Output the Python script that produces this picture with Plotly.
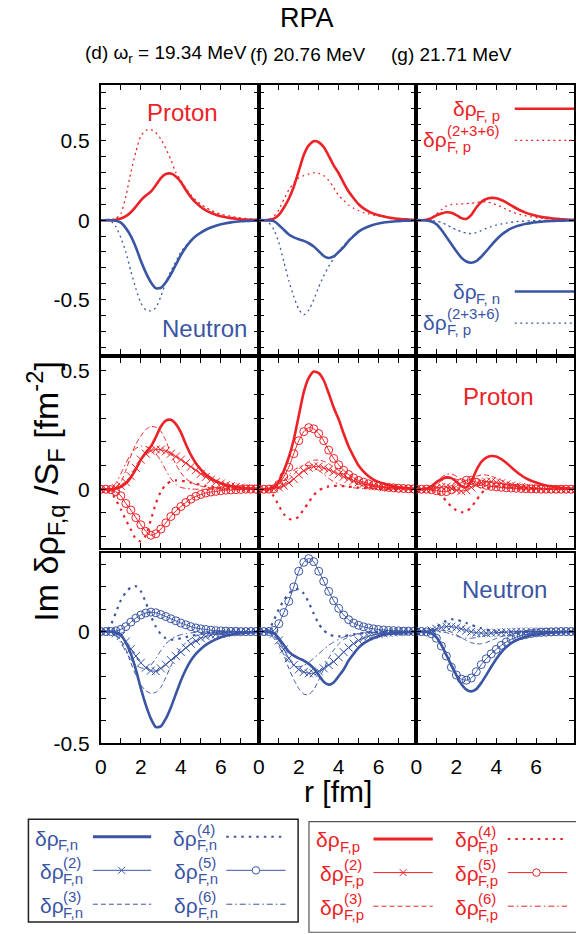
import plotly.graph_objects as go

W, H = 576, 934
RED = "#EC2227"
BLUE = "#3A55A4"
FONT = "Liberation Sans, Arial, Helvetica, sans-serif"

# radial grid [fm]
R = [0, 0.25, 0.5, 0.75, 1, 1.25, 1.5, 1.75, 2, 2.25, 2.5, 2.75, 3, 3.25, 3.5, 3.75, 4,
     4.25, 4.5, 4.75, 5, 5.25, 5.5, 5.75, 6, 6.25, 6.5, 6.75, 7, 7.25, 7.5, 7.75, 8]

# ---------------- (d) 19.34 MeV ----------------
D_P_TOT = [0,0,0,0.003,0.01,0.025,0.05,0.085,0.125, 0.155,0.18,0.22,0.265,0.29,0.293,0.275,0.24,
           0.19,0.145,0.11,0.083,0.062,0.047,0.034,0.025, 0.018,0.013,0.009,0.006,0.004,0.003,0.002,0.001]
D_P_236 = [0,0,0.002,0.01,0.04,0.15,0.30,0.43,0.53, 0.565,0.57,0.55,0.51,0.45,0.38,0.30,0.25,
           0.2,0.16,0.125,0.1,0.08,0.062,0.048,0.038, 0.03,0.024,0.018,0.014,0.011,0.008,0.006,0.005]
D_N_TOT = [0,0,0,-0.004,-0.015,-0.05,-0.1,-0.17,-0.255, -0.33,-0.39,-0.428,-0.425,-0.39,-0.34,-0.28,-0.22,
           -0.17,-0.13,-0.1,-0.078,-0.06,-0.046,-0.035,-0.026, -0.019,-0.014,-0.01,-0.007,-0.005,-0.004,-0.003,-0.002]
D_N_236 = [0,0,-0.005,-0.04,-0.11,-0.2,-0.32,-0.43,-0.52, -0.565,-0.57,-0.55,-0.48,-0.39,-0.32,-0.26,-0.2,
           -0.16,-0.125,-0.1,-0.078,-0.06,-0.046,-0.034,-0.025, -0.018,-0.013,-0.009,-0.006,-0.004,-0.003,-0.002,-0.001]
D_P2 = [0,0,0,0.005,0.015,0.03,0.055,0.09,0.125, 0.15,0.163,0.168,0.167,0.16,0.15,0.138,0.125,
        0.11,0.095,0.08,0.065,0.052,0.04,0.031,0.024, 0.018,0.013,0.01,0.007,0.005,0.004,0.003,0.002]
D_P3 = [0,0,0.002,0.01,0.03,0.08,0.14,0.19,0.225, 0.252,0.264,0.262,0.245,0.205,0.15,0.105,0.07,
        0.045,0.03,0.02,0.013,0.009,0.006,0.004,0.003, 0.002,0.002,0.001,0.001,0,0,0,0]
D_P4 = [0,0,-0.01,-0.045,-0.085,-0.13,-0.17,-0.21,-0.22, -0.195,-0.13,-0.06,-0.01,0.02,0.033,0.037,0.036,
        0.033,0.028,0.023,0.018,0.014,0.011,0.008,0.006, 0.005,0.004,0.003,0.002,0.002,0.001,0.001,0]
D_P5 = [0,0,-0.002,-0.01,-0.028,-0.06,-0.088,-0.12,-0.15, -0.178,-0.194,-0.188,-0.168,-0.142,-0.115,-0.092,-0.073,
        -0.056,-0.042,-0.03,-0.022,-0.016,-0.012,-0.009,-0.006, -0.004,-0.003,-0.002,-0.001,0,0,0,0]
D_P6 = [0,0,0.005,0.025,0.065,0.11,0.148,0.172,0.182, 0.18,0.17,0.15,0.12,0.08,0.045,0.02,0.008,
        0.003,0.001,0,0,0,0,0,0, 0,0,0,0,0,0,0,0]
D_N2 = [0,0,-0.002,-0.008,-0.02,-0.045,-0.078,-0.11,-0.14, -0.162,-0.175,-0.178,-0.165,-0.148,-0.128,-0.11,-0.092,
        -0.073,-0.055,-0.042,-0.03,-0.022,-0.016,-0.012,-0.009, -0.006,-0.004,-0.003,-0.002,-0.001,-0.001,0,0]
D_N3 = [0,0,-0.003,-0.015,-0.04,-0.08,-0.14,-0.195,-0.24, -0.265,-0.277,-0.272,-0.25,-0.205,-0.155,-0.11,-0.075,
        -0.05,-0.032,-0.02,-0.013,-0.009,-0.006,-0.004,-0.003, -0.002,-0.001,-0.001,0,0,0,0,0]
D_N4 = [0,0.002,0.03,0.085,0.14,0.175,0.198,0.203,0.18, 0.13,0.07,0.022,-0.012,-0.03,-0.036,-0.035,-0.03,
        -0.025,-0.02,-0.015,-0.011,-0.008,-0.006,-0.004,-0.003, -0.002,-0.002,-0.001,-0.001,0,0,0,0]
D_N5 = [0,0,0,0.003,0.01,0.022,0.042,0.06,0.074, 0.083,0.087,0.084,0.076,0.067,0.057,0.048,0.038,
        0.03,0.022,0.016,0.012,0.009,0.006,0.004,0.003, 0.002,0.001,0.001,0,0,0,0,0]
D_N6 = [0,0,-0.005,-0.02,-0.05,-0.09,-0.125,-0.15,-0.163, -0.163,-0.15,-0.12,-0.085,-0.055,-0.035,-0.022,-0.014,
        -0.009,-0.006,-0.004,-0.003,-0.002,-0.001,-0.001,0, 0,0,0,0,0,0,0,0]

# ---------------- (f) 20.76 MeV ----------------
F_P_TOT = [0,0,0.002,0.01,0.033,0.078,0.135,0.21,0.31, 0.41,0.47,0.497,0.49,0.46,0.405,0.345,0.295,
           0.235,0.18,0.138,0.1,0.074,0.055,0.041,0.031, 0.024,0.017,0.012,0.008,0.006,0.004,0.003,0.002]
F_P_236 = [0,0,0.005,0.025,0.065,0.13,0.19,0.235,0.265, 0.28,0.29,0.298,0.295,0.28,0.25,0.205,0.155,
           0.125,0.095,0.075,0.06,0.048,0.04,0.032,0.026, 0.02,0.016,0.012,0.009,0.007,0.005,0.004,0.003]
F_N_TOT = [0,0,-0.001,-0.006,-0.03,-0.06,-0.09,-0.108,-0.12, -0.13,-0.145,-0.165,-0.195,-0.225,-0.238,-0.228,-0.2,
           -0.17,-0.13,-0.1,-0.072,-0.053,-0.04,-0.029,-0.021, -0.015,-0.011,-0.008,-0.006,-0.004,-0.003,-0.002,-0.001]
F_N_236 = [0,-0.002,-0.015,-0.06,-0.14,-0.26,-0.38,-0.48,-0.56, -0.595,-0.565,-0.5,-0.42,-0.35,-0.29,-0.24,-0.195,
           -0.16,-0.125,-0.095,-0.07,-0.052,-0.038,-0.028,-0.021, -0.015,-0.011,-0.008,-0.006,-0.004,-0.003,-0.002,-0.001]
F_P2 = [0,0,0,0.003,0.008,0.015,0.027,0.043,0.062, 0.078,0.09,0.096,0.096,0.09,0.082,0.073,0.063,
        0.053,0.044,0.036,0.029,0.023,0.018,0.014,0.011, 0.008,0.006,0.005,0.004,0.003,0.002,0.001,0.001]
F_P3 = [0,0,0,0.003,0.01,0.022,0.04,0.062,0.085, 0.103,0.115,0.122,0.123,0.118,0.108,0.094,0.078,
        0.062,0.048,0.036,0.027,0.02,0.015,0.011,0.008, 0.006,0.004,0.003,0.002,0.001,0.001,0,0]
F_P4 = [0,-0.001,-0.008,-0.03,-0.07,-0.105,-0.125,-0.128,-0.115, -0.085,-0.055,-0.025,-0.005,0.006,0.012,0.014,0.014,
        0.013,0.011,0.009,0.007,0.005,0.004,0.003,0.002, 0.001,0.001,0,0,0,0,0,0]
F_P5 = [0,0,0,0.002,0.02,0.053,0.093,0.15,0.205, 0.243,0.26,0.255,0.235,0.205,0.165,0.13,0.103,
        0.08,0.062,0.048,0.037,0.03,0.023,0.018,0.014, 0.011,0.008,0.006,0.004,0.003,0.002,0.001,0.001]
F_P6 = [0,0,0.002,0.008,0.02,0.038,0.06,0.08,0.093, 0.1,0.1,0.093,0.08,0.063,0.046,0.032,0.022,
        0.014,0.009,0.006,0.004,0.003,0.002,0.001,0, 0,0,0,0,0,0,0,0]
F_N2 = [0,0,-0.002,-0.01,-0.04,-0.08,-0.12,-0.15,-0.17, -0.181,-0.187,-0.187,-0.178,-0.165,-0.15,-0.135,-0.115,
        -0.092,-0.072,-0.054,-0.04,-0.029,-0.021,-0.015,-0.011, -0.008,-0.006,-0.004,-0.003,-0.002,-0.001,-0.001,0]
F_N3 = [0,0,-0.005,-0.02,-0.055,-0.105,-0.165,-0.215,-0.255, -0.28,-0.283,-0.26,-0.218,-0.168,-0.12,-0.083,-0.055,
        -0.036,-0.024,-0.016,-0.011,-0.007,-0.005,-0.003,-0.002, -0.001,-0.001,0,0,0,0,0,0]
F_N4 = [0,0.001,0.01,0.05,0.1,0.14,0.17,0.187,0.19, 0.17,0.13,0.08,0.035,0.005,-0.012,-0.02,-0.022,
        -0.02,-0.017,-0.013,-0.01,-0.007,-0.005,-0.004,-0.003, -0.002,-0.001,-0.001,0,0,0,0,0]
F_N5 = [0,0,0,0.005,0.035,0.085,0.135,0.2,0.27, 0.31,0.327,0.313,0.27,0.225,0.18,0.138,0.104,
        0.074,0.053,0.038,0.028,0.021,0.016,0.012,0.009, 0.007,0.005,0.004,0.003,0.002,0.002,0.001,0.001]
F_N6 = [0,0,-0.008,-0.03,-0.065,-0.105,-0.135,-0.152,-0.158, -0.152,-0.138,-0.12,-0.1,-0.08,-0.062,-0.047,-0.035,
        -0.025,-0.018,-0.013,-0.009,-0.006,-0.004,-0.003,-0.002, -0.001,0,0,0,0,0,0,0]

# ---------------- (g) 21.71 MeV ----------------
G_P_TOT = [0,0,0.003,0.012,0.03,0.042,0.05,0.047,0.032, 0.013,0.008,0.033,0.08,0.115,0.133,0.14,0.138,
           0.127,0.112,0.093,0.075,0.059,0.046,0.036,0.028, 0.021,0.016,0.012,0.009,0.006,0.004,0.003,0.002]
G_P_236 = [0,0,0.003,0.015,0.04,0.065,0.088,0.098,0.101, 0.102,0.104,0.107,0.111,0.115,0.115,0.109,0.098,
           0.084,0.068,0.054,0.043,0.034,0.027,0.021,0.016, 0.012,0.009,0.007,0.005,0.004,0.003,0.002,0.001]
G_N_TOT = [0,0,-0.002,-0.008,-0.025,-0.06,-0.105,-0.15,-0.195, -0.235,-0.26,-0.268,-0.258,-0.23,-0.195,-0.158,-0.123,
           -0.093,-0.07,-0.052,-0.039,-0.03,-0.023,-0.017,-0.013, -0.01,-0.007,-0.005,-0.004,-0.003,-0.002,-0.001,-0.001]
G_N_236 = [0,0,-0.001,-0.003,-0.007,-0.014,-0.028,-0.045,-0.06, -0.072,-0.081,-0.085,-0.078,-0.066,-0.052,-0.04,-0.031,
           -0.024,-0.018,-0.013,-0.009,-0.007,-0.005,-0.004,-0.003, -0.002,-0.001,-0.001,0,0,0,0,0]
G_P2 = [0,0,0,0.002,0.006,0.01,0.01,0.004,-0.004, -0.008,-0.004,0.008,0.02,0.028,0.032,0.032,0.029,
        0.025,0.02,0.016,0.012,0.009,0.007,0.005,0.004, 0.003,0.002,0.001,0.001,0,0,0,0]
G_P3 = [0,0,0.002,0.008,0.02,0.035,0.045,0.048,0.042, 0.035,0.035,0.045,0.055,0.06,0.06,0.055,0.047,
        0.038,0.03,0.023,0.017,0.012,0.009,0.006,0.004, 0.003,0.002,0.001,0.001,0,0,0,0]
G_P4 = [0,0,-0.001,-0.004,-0.012,-0.026,-0.05,-0.073,-0.089, -0.097,-0.094,-0.075,-0.047,-0.018,0.002,0.01,0.012,
        0.011,0.009,0.007,0.005,0.004,0.003,0.002,0.001, 0.001,0,0,0,0,0,0,0]
G_P5 = [0,0,0,-0.002,-0.006,-0.01,-0.01,-0.002,0.012, 0.028,0.038,0.038,0.03,0.022,0.016,0.012,0.01,
        0.008,0.006,0.005,0.004,0.003,0.002,0.001,0.001, 0,0,0,0,0,0,0,0]
G_P6 = [0,0,0.003,0.012,0.03,0.05,0.063,0.065,0.055, 0.04,0.027,0.02,0.017,0.016,0.014,0.012,0.009,
        0.007,0.005,0.003,0.002,0.001,0,0,0, 0,0,0,0,0,0,0,0]
G_N2 = [0,0,0.001,0.005,0.012,0.018,0.022,0.022,0.018, 0.012,0.005,-0.001,-0.005,-0.007,-0.007,-0.006,-0.005,
        -0.004,-0.003,-0.002,-0.001,0,0,0,0, 0,0,0,0,0,0,0,0]
G_N3 = [0,0,0,0.002,0.005,0.006,0.004,-0.003,-0.014, -0.027,-0.04,-0.05,-0.055,-0.055,-0.049,-0.04,-0.031,
        -0.023,-0.017,-0.012,-0.008,-0.006,-0.004,-0.003,-0.002, -0.001,-0.001,0,0,0,0,0,0]
G_N4 = [0,0,0.002,0.008,0.02,0.035,0.048,0.055,0.053, 0.046,0.038,0.03,0.022,0.015,0.009,0.004,0.001,
        -0.001,-0.001,0,0,0,0,0,0, 0,0,0,0,0,0,0,0]
G_N5 = [0,0,-0.002,-0.01,-0.03,-0.065,-0.11,-0.16,-0.195, -0.213,-0.218,-0.208,-0.18,-0.148,-0.122,-0.1,-0.08,
        -0.062,-0.047,-0.035,-0.025,-0.018,-0.013,-0.009,-0.006, -0.004,-0.003,-0.002,-0.001,0,0,0,0]
G_N6 = [0,0,0,0.001,0.002,0,-0.005,-0.012,-0.02, -0.027,-0.03,-0.03,-0.027,-0.022,-0.017,-0.012,-0.008,
        -0.005,-0.003,-0.002,-0.001,0,0,0,0, 0,0,0,0,0,0,0,0]

SUBTITLES = ["(d) ω<sub>r</sub> = 19.34 MeV", "(f) 20.76 MeV", "(g) 21.71 MeV"]
X_TICKS = [0, 1, 2, 3, 4, 5, 6, 7]
X_TICKTEXT = ["0", "", "2", "", "4", "", "6", ""]
Y_TICKS = [
    [-0.8, -0.7, -0.6, -0.5, -0.4, -0.3, -0.2, -0.1, 0, 0.1, 0.2, 0.3, 0.4, 0.5, 0.6, 0.7, 0.8],
    [-0.2, -0.1, 0, 0.1, 0.2, 0.3, 0.4, 0.5],
    [-0.5, -0.4, -0.3, -0.2, -0.1, 0, 0.1, 0.2, 0.3],
]
Y_TICKTEXT = [
    ["", "", "", "-0.5", "", "", "", "", "0", "", "", "", "", "0.5", "", "", ""],
    ["", "", "0", "", "", "", "", "0.5"],
    ["-0.5", "", "", "", "", "0", "", "", ""],
]
Y_RANGES = [[-0.84, 0.85], [-0.25, 0.555], [-0.5, 0.35]]
X_RANGE = [0, 7.9]

COLUMNS = [
    dict(p_tot=D_P_TOT, n_tot=D_N_TOT, p236=D_P_236, n236=D_N_236,
         p=[D_P2, D_P3, D_P4, D_P5, D_P6], n=[D_N2, D_N3, D_N4, D_N5, D_N6]),
    dict(p_tot=F_P_TOT, n_tot=F_N_TOT, p236=F_P_236, n236=F_N_236,
         p=[F_P2, F_P3, F_P4, F_P5, F_P6], n=[F_N2, F_N3, F_N4, F_N5, F_N6]),
    dict(p_tot=G_P_TOT, n_tot=G_N_TOT, p236=G_P_236, n236=G_N_236,
         p=[G_P2, G_P3, G_P4, G_P5, G_P6], n=[G_N2, G_N3, G_N4, G_N5, G_N6]),
]

# panel edges in pixels
COL_PX = [(96, 256), (256, 415.5), (415.5, 575)]
ROW_PX = [(86, 358), (362, 555), (560, 752)]

DOT236 = "2px,3.5px"
DOT4 = "2.5px,5px"
DASH3 = "5px,3px"
DASHDOT6 = "6px,3px,1.5px,3px"


def PX(x):
    return x / W


def PY(y):
    return 1 - y / H


def comp_style(k, color):
    if k == 2:
        return dict(mode="lines+markers", line=dict(color=color, width=1),
                    marker=dict(symbol="x-thin-open", size=8, color=color, line=dict(color=color, width=1)))
    if k == 3:
        return dict(mode="lines", line=dict(color=color, width=1, dash=DASH3))
    if k == 4:
        return dict(mode="lines", line=dict(color=color, width=2.2, dash=DOT4))
    if k == 5:
        return dict(mode="lines+markers", line=dict(color=color, width=1),
                    marker=dict(symbol="circle-open", size=8, color=color, line=dict(color=color, width=1)))
    return dict(mode="lines", line=dict(color=color, width=1, dash=DASHDOT6))


fig = go.Figure()
layout_axes = {}
for ci, col in enumerate(COLUMNS):
    for ri in range(3):
        n = ri * 3 + ci + 1
        xa = "x" if n == 1 else f"x{n}"
        ya = "y" if n == 1 else f"y{n}"
        traces = []
        if ri == 0:
            traces.append((col["p236"], dict(mode="lines", line=dict(color=RED, width=1.3, dash=DOT236))))
            traces.append((col["n236"], dict(mode="lines", line=dict(color=BLUE, width=1.3, dash=DOT236))))
            traces.append((col["p_tot"], dict(mode="lines", line=dict(color=RED, width=2.6))))
            traces.append((col["n_tot"], dict(mode="lines", line=dict(color=BLUE, width=2.6))))
        elif ri == 1:
            for k, arr in zip([2, 3, 4, 5, 6], col["p"]):
                traces.append((arr, comp_style(k, RED)))
            traces.append((col["p_tot"], dict(mode="lines", line=dict(color=RED, width=2.6))))
        else:
            for k, arr in zip([2, 3, 4, 5, 6], col["n"]):
                traces.append((arr, comp_style(k, BLUE)))
            traces.append((col["n_tot"], dict(mode="lines", line=dict(color=BLUE, width=2.6))))
        for arr, st in traces:
            st = dict(st)
            st["line"] = dict(st["line"], shape="spline", smoothing=0.6)
            fig.add_trace(go.Scatter(x=R, y=arr, xaxis=xa, yaxis=ya, showlegend=False,
                                     hoverinfo="skip", **st))
        x0, x1 = COL_PX[ci]
        y0, y1 = ROW_PX[ri]
        common = dict(showline=True, mirror="allticks", linecolor="black", linewidth=2,
                      ticks="inside", ticklen=5, tickwidth=1, tickcolor="black",
                      showgrid=False, zeroline=False, fixedrange=True,
                      tickfont=dict(size=21, family=FONT, color="black"))
        layout_axes["xaxis" if n == 1 else f"xaxis{n}"] = dict(
            domain=[PX(x0), PX(x1)], range=X_RANGE, anchor=ya, ticklabelstandoff=4,
            tickvals=X_TICKS, ticktext=X_TICKTEXT if ri == 2 else [""] * len(X_TICKS), **common)
        layout_axes["yaxis" if n == 1 else f"yaxis{n}"] = dict(
            domain=[PY(y1), PY(y0)], range=Y_RANGES[ri], anchor=xa, ticklabelstandoff=5,
            tickvals=Y_TICKS[ri],
            ticktext=Y_TICKTEXT[ri] if ci == 0 else [""] * len(Y_TICKS[ri]), **common)


def txt(x, y, s, size, color="black", xanchor="center", yanchor="middle", angle=0):
    return dict(x=PX(x), y=PY(y), xref="paper", yref="paper", text=s, showarrow=False,
                font=dict(size=size, color=color, family=FONT), xanchor=xanchor,
                yanchor=yanchor, textangle=angle)


def stacked(x, y, sup, sub, color, big=21, small=15, dw=24):
    items = [txt(x, y, "δρ", big, color, "left"), txt(x + dw, y + 7, sub, small, color, "left")]
    if sup:
        items.append(txt(x + dw, y - 9, sup, small, color, "left"))
    return items


def hline(x0, x1, y, color, width=1, dash="solid"):
    return dict(type="line", xref="paper", yref="paper", x0=PX(x0), x1=PX(x1),
                y0=PY(y), y1=PY(y), line=dict(color=color, width=width, dash=dash))


ann = []
shapes = []
ann.append(txt(305, 18, "RPA", 27))
ann.append(txt(78, 55, SUBTITLES[0], 19, xanchor="left"))
ann.append(txt(245, 55, SUBTITLES[1], 19, xanchor="left"))
ann.append(txt(388, 55, SUBTITLES[2], 19, xanchor="left"))
ann.append(txt(336, 801, "r [fm]", 30))
ann.append(txt(40, 497, "Im δρ<sub>F,q</sub> /S<sub>F</sub> [fm<sup>-2</sup>]", 34, angle=-90))
ann.append(txt(179, 114, "Proton", 24, RED))
ann.append(txt(201, 332, "Neutron", 24, BLUE))
ann.append(txt(499, 401, "Proton", 24, RED))
ann.append(txt(505, 597, "Neutron", 24, BLUE))

# in-panel legend (g, top row)
ann += stacked(450, 110, None, "F, p", RED)
ann += stacked(420, 141, "(2+3+6)", "F, p", RED)
ann += stacked(450, 295, None, "F, n", BLUE)
ann += stacked(420, 326, "(2+3+6)", "F, p", BLUE)
shapes.append(hline(515, 575, 110, RED, 2.6))
shapes.append(hline(515, 575, 142, RED, 1.3, DOT236))
shapes.append(hline(515, 575, 295, BLUE, 2.6))
shapes.append(hline(515, 575, 327, BLUE, 1.3, DOT236))

# bottom legend boxes
shapes.append(dict(type="rect", xref="paper", yref="paper", x0=PX(22.7), x1=PX(295.7),
                   y0=PY(933), y1=PY(829), line=dict(color="#222", width=1.5)))
shapes.append(dict(type="rect", xref="paper", yref="paper", x0=PX(306.7), x1=1.01,
                   y0=-0.01, y1=PY(831.5), line=dict(color="#555", width=1.2)))


def legend_box(color, q, cols_x, lines_x, rows_y, lines_y, marks_x):
    sups = [[None, "(2)", "(3)"], ["(4)", "(5)", "(6)"]]
    comps = [["tot", 2, 3], [4, 5, 6]]
    for c in range(2):
        for r in range(3):
            xt = cols_x[c][r]
            ann.extend(stacked(xt, rows_y[r], sups[c][r], "F," + q, color))
            lx0, lx1 = lines_x[c]
            ly = lines_y[r]
            k = comps[c][r]
            if k == "tot":
                shapes.append(hline(lx0, lx1, ly, color, 3))
            elif k in (2, 5):
                shapes.append(hline(lx0, lx1, ly, color, 1))
                mx = marks_x[c]
                if k == 2:
                    d = 3.5
                    shapes.append(dict(type="line", xref="paper", yref="paper", x0=PX(mx - d),
                                       x1=PX(mx + d), y0=PY(ly - d), y1=PY(ly + d),
                                       line=dict(color=color, width=1)))
                    shapes.append(dict(type="line", xref="paper", yref="paper", x0=PX(mx - d),
                                       x1=PX(mx + d), y0=PY(ly + d), y1=PY(ly - d),
                                       line=dict(color=color, width=1)))
                else:
                    d = 3.8
                    shapes.append(dict(type="circle", xref="paper", yref="paper", x0=PX(mx - d),
                                       x1=PX(mx + d), y0=PY(ly + d), y1=PY(ly - d),
                                       line=dict(color=color, width=1), fillcolor="white"))
            elif k == 3:
                shapes.append(hline(lx0, lx1, ly, color, 1, DASH3))
            elif k == 4:
                shapes.append(hline(lx0, lx1, ly, color, 2.2, DOT4))
            else:
                shapes.append(hline(lx0, lx1, ly, color, 1, DASHDOT6))


legend_box(BLUE, "n", [[27, 32, 32], [167, 168, 168]], [(88, 147), (223, 283)],
           [848, 882, 916], [846.7, 880.7, 915], [117, 253])
legend_box(RED, "p", [[312, 316, 316], [452, 452, 452]], [(372, 432), (508, 568)],
           [850, 884, 918], [849, 883, 917], [402, 537])

fig.update_layout(width=W, height=H, margin=dict(l=0, r=0, t=0, b=0),
                  paper_bgcolor="white", plot_bgcolor="white", showlegend=False,
                  hovermode=False, dragmode=False,
                  annotations=ann, shapes=shapes, **layout_axes)
fig.write_html("out.html", config={"displayModeBar": False, "staticPlot": True},
               post_script="document.body.style.margin='0';")
